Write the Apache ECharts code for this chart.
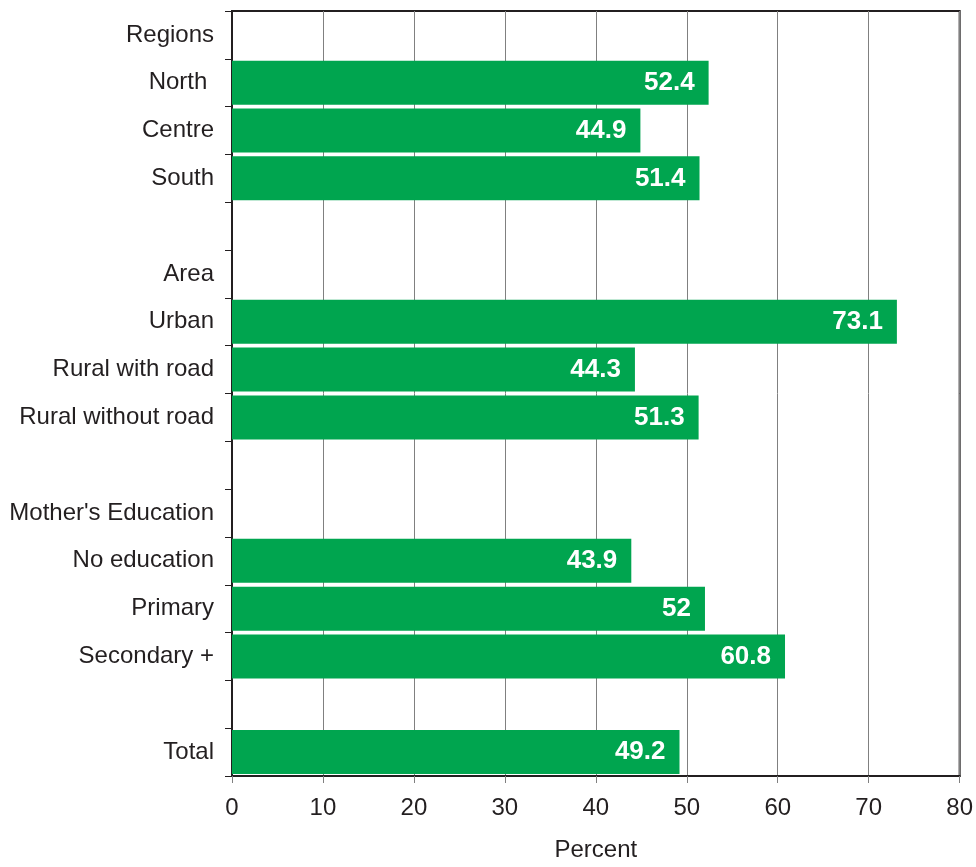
<!DOCTYPE html>
<html>
<head>
<meta charset="utf-8">
<script src="https://cdn.jsdelivr.net/npm/echarts@6/dist/echarts.min.js"></script>
<style>html,body{margin:0;padding:0;background:#fff}#c{width:976px;height:867px}</style>
</head>
<body>
<div id="c"></div>
<script>
const categories = ['Regions', 'North ', 'Centre', 'South', ' ', 'Area', 'Urban', 'Rural with road', 'Rural without road', '  ', "Mother's Education", 'No education', 'Primary', 'Secondary +', '   ', 'Total'];
const values = [null, 52.4, 44.9, 51.4, null, null, 73.1, 44.3, 51.3, null, null, 43.9, 52, 60.8, null, 49.2];
const xTicks = [0, 10, 20, 30, 40, 50, 60, 70, 80];

const chart = echarts.init(document.getElementById('c'), null, {renderer: 'canvas'});
const font = "'Liberation Sans', Arial, sans-serif";
chart.setOption({
  animation: false,
  grid: {left: 232, right: 12, top: 11, bottom: 88, show: true, borderColor: '#231f20', borderWidth: 2, backgroundColor: 'transparent'},
  xAxis: {
    type: 'value', min: xTicks[0], max: xTicks[xTicks.length - 1], interval: 10,
    name: 'Percent', nameLocation: 'middle', nameGap: 62,
    nameTextStyle: {fontFamily: font, fontSize: 24, color: '#231f20'},
    axisLine: {show: true, lineStyle: {color: '#231f20', width: 2}},
    axisTick: {show: true, length: 7, lineStyle: {color: '#808080', width: 1}},
    axisLabel: {fontFamily: font, fontSize: 24, color: '#231f20', margin: 20},
    splitLine: {show: true, lineStyle: {color: '#808080', width: 1}}
  },
  yAxis: {
    type: 'category', data: categories, inverse: true,
    axisLine: {show: true, lineStyle: {color: '#231f20', width: 2}},
    axisTick: {show: true, length: 7, lineStyle: {color: '#231f20', width: 1}},
    axisLabel: {fontFamily: font, fontSize: 24, color: '#231f20', margin: 18, interval: 0},
    splitLine: {show: false}
  },
  series: [{
    type: 'bar', data: values, barWidth: '92%',
    itemStyle: {color: '#00a54f'},
    label: {show: true, position: 'insideRight', distance: 14, color: '#fff', fontFamily: font, fontSize: 26, fontWeight: 'bold'}
  }]
});
</script>
</body>
</html>
